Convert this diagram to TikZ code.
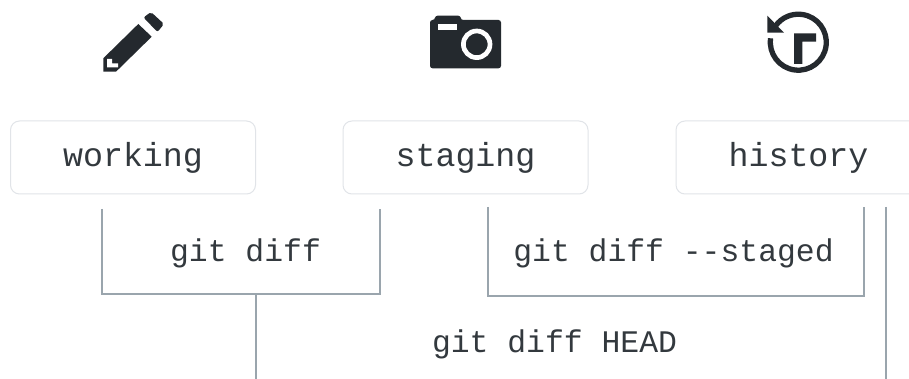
\documentclass[tikz,border=0pt]{standalone}
\usepackage{fontspec}
\setmonofont{Liberation Mono}
\definecolor{ink}{HTML}{24292E}
\definecolor{soft}{HTML}{33393E}
\definecolor{edge}{HTML}{E1E4E8}
\definecolor{wire}{HTML}{9AA5AD}
\tikzset{
  stagebox/.style={draw=edge,line width=1pt,rounded corners=9pt,fill=white,minimum width=245pt,minimum height=73pt,inner sep=0pt,text=soft,text height=19pt,text depth=0pt,font=\ttfamily\fontsize{33.3}{36}\selectfont},
  cmdlabel/.style={anchor=base,inner sep=0pt,text=soft,font=\ttfamily\fontsize{31.4}{34}\selectfont},
  wireline/.style={draw=wire,line width=2pt,line cap=butt,line join=miter},
  icon/.style={fill=ink,draw=none}
}
\begin{document}
\begin{tikzpicture}[x=1pt,y=-1pt]
\useasboundingbox (0,0) rectangle (909,379);
\clip (0,0) rectangle (909,379);
\fill[white] (0,0) rectangle (909,379);
% pencil
\fill[icon] (138.3,24) -- (151.7,36.7) -- (116,71.7) -- (103.3,71.7) -- (103.3,58.3) -- cycle;
\fill[white] (107,59) -- (112,59) -- (112,63.5) -- (118,63.5) -- (118,67.5) -- (107,67.5) -- cycle;
\fill[icon,rounded corners=2pt] (143.5,17.5) -- (151,12) -- (164,24) -- (157.5,32) -- cycle;
% camera
\fill[icon,rounded corners=2.5pt] (430,68.3) -- (430,20) -- (435,20) -- (435,15.7) -- (460.7,15.7) -- (460.7,20) -- (501,20) -- (501,68.3) -- cycle;
\fill[white] (438.3,24) rectangle (456.7,30);
\draw[white,line width=4.7pt] (476.7,44.3) circle[radius=13.3];
% history
\draw[ink,line width=5.3pt] (798.3,42.2) ++(-172:28) arc[start angle=-172,end angle=-505,radius=28];
\fill[icon] (767.3,15.7) -- (784,32.7) -- (767.3,32.7) -- cycle;
\fill[icon] (794,33.3) -- (816,33.3) -- (816,41.7) -- (802.3,41.7) -- (802.3,64) -- (794,64) -- cycle;
% boxes
\node[stagebox] (working) at (133,157.5) {working};
\node[stagebox] (staging) at (465.5,157.5) {staging};
\node[stagebox] (history) at (798.5,157.5) {history};
% labels
\node[cmdlabel] (diff) at (245.5,261) {git diff};
\node[cmdlabel] (diffstaged) at (673.5,261) {git diff --staged};
\node[cmdlabel] (diffhead) at (554.5,352) {git diff HEAD};
% connectors
\coordinate (wa) at (102,209);
\coordinate (wb) at (380,209);
\coordinate (sa) at (488,207);
\coordinate (sb) at (864,207);
\coordinate (ha) at (256,294);
\coordinate (hb) at (256,379);
\coordinate (hc) at (886,207);
\coordinate (hd) at (886,379);
\draw[wireline] (wa) |- (ha) -| (wb);
\draw[wireline] (sa) |- (674,296) -| (sb);
\draw[wireline] (ha) -- (hb);
\draw[wireline] (hc) -- (hd);
\end{tikzpicture}
\end{document}
